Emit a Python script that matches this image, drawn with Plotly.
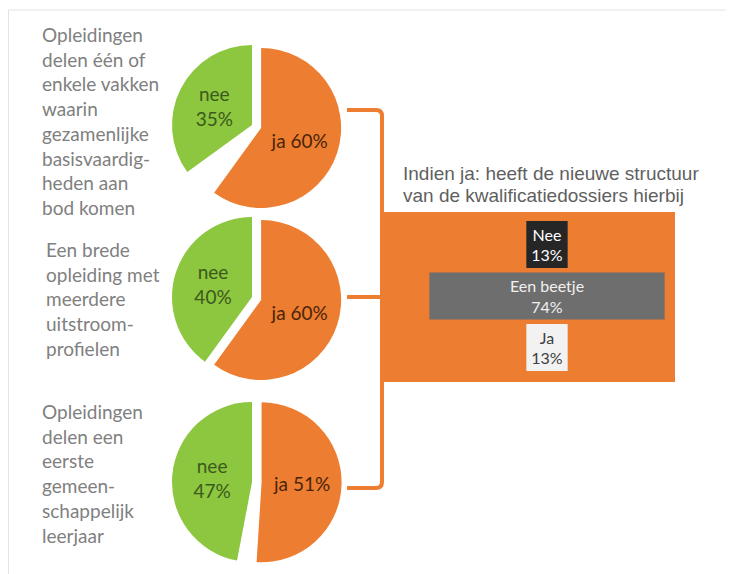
import plotly.graph_objects as go

# The page body has an 8px margin, so the figure is drawn at (8, 8).
OFF = 8
W, H = 734 - OFF, 574 - OFF

# ---------------- data ----------------
pie_labels = [
    ["Opleidingen", "delen één of", "enkele vakken", "waarin", "gezamenlijke",
     "basisvaardig-", "heden aan", "bod komen"],
    ["Een brede", "opleiding met", "meerdere", "uitstroom-", "profielen"],
    ["Opleidingen", "delen een", "eerste", "gemeen-", "schappelijk", "leerjaar"],
]
ja_pct = [60, 60, 51]
nee_pct = [35, 40, 47]

sub_title = ["Indien ja: heeft de nieuwe structuur",
             "van de kwalificatiedossiers hierbij"]
bar_cats = ["Nee", "Een beetje", "Ja"]
bar_pct = [13, 74, 13]

# ---------------- style ----------------
ORANGE = "#ED7D31"
GREEN = "#8DC63F"
GRAY_TXT = "#808080"


def X(px):
    return (px - OFF) / W


def Y(py):
    return 1 - (py - OFF) / H


fig = go.Figure()

pie_centers = [(252, 125), (252, 297), (252, 482)]
R = 80
PULL = 0.12
half = R * (1 + PULL)

for i, (cx, cy) in enumerate(pie_centers):
    rest = 100 - ja_pct[i] - nee_pct[i]
    fig.add_trace(go.Pie(
        values=[ja_pct[i], rest, nee_pct[i]],
        labels=["ja", "", "nee"],
        text=[f"ja {ja_pct[i]}%", "", f"nee<br>{nee_pct[i]}%"],
        textinfo="text",
        textposition="inside",
        insidetextorientation="horizontal",
        insidetextfont=dict(family="Lato", size=19,
                            color=["#4a2508", "rgba(0,0,0,0)", "#3b5a1c"]),
        marker=dict(colors=[ORANGE, "rgba(0,0,0,0)", GREEN],
                    line=dict(width=0)),
        pull=[PULL, 0, 0],
        sort=False,
        direction="clockwise",
        rotation=0,
        showlegend=False,
        hoverinfo="skip",
        domain=dict(x=[max(0, X(cx - half)), min(1, X(cx + half))],
                    y=[max(0, Y(cy + half)), min(1, Y(cy - half))]),
    ))

# centered bars inside the orange box
bx0, bx1, by0, by1 = 383, 675, 212, 382
bar_center_px = 547
px_per_unit = 3.18
slot_px = 51.5
first_center_py = 244.5

fig.add_trace(go.Funnel(
    y=bar_cats,
    x=bar_pct,
    text=[f"{c}<br>{v}%" for c, v in zip(bar_cats, bar_pct)],
    textinfo="text",
    textposition="inside",
    insidetextanchor="middle",
    textangle=0,
    constraintext="none",
    textfont=dict(family="Lato", size=16,
                  color=["#ffffff", "#f0f0f0", "#404040"]),
    marker=dict(color=["#262626", "#6E6E6E", "#F2F2F2"], line=dict(width=0)),
    connector=dict(visible=False),
    width=0.91,
    hoverinfo="skip",
    showlegend=False,
))

x_lo = (bx0 - bar_center_px) / px_per_unit
x_hi = (bx1 - bar_center_px) / px_per_unit
y_top = -(first_center_py - by0) / slot_px
y_bot = 2 + (by1 - (first_center_py + 2 * slot_px)) / slot_px

fig.update_layout(
    width=W, height=H, autosize=False,
    margin=dict(l=0, r=0, t=0, b=0),
    paper_bgcolor="white",
    plot_bgcolor=ORANGE,
    xaxis=dict(domain=[X(bx0), X(bx1)], range=[x_lo, x_hi], visible=False,
               fixedrange=True),
    yaxis=dict(domain=[Y(by1), Y(by0)], range=[y_bot, y_top], visible=False,
               type="category", fixedrange=True),
)

# left-hand descriptive labels
label_tops = [21, 236, 398]
label_x = [40, 44, 40]
for lines, top, lx in zip(pie_labels, label_tops, label_x):
    fig.add_annotation(
        x=X(lx), y=Y(top), xref="paper", yref="paper",
        xanchor="left", yanchor="top", align="left", showarrow=False,
        text="<br>".join(lines),
        font=dict(family="Lato", size=19, color=GRAY_TXT),
    )

# sub-chart title (one annotation per line for tight line spacing)
title_line_centers = [173, 195]
for line, cy in zip(sub_title, title_line_centers):
    fig.add_annotation(
        x=X(401), y=Y(cy), xref="paper", yref="paper",
        xanchor="left", yanchor="middle", align="left", showarrow=False,
        text=line,
        font=dict(family="Liberation Sans", size=19, color="#5f5f5f"),
    )

# bracket connecting the pies to the box
vx = 382
t_y, m_y, b_y = 110, 297, 488
sx = 347
rc = 6
path = (f"M {X(sx)},{Y(t_y)} L {X(vx - rc)},{Y(t_y)} "
        f"Q {X(vx)},{Y(t_y)} {X(vx)},{Y(t_y + rc)} "
        f"L {X(vx)},{Y(b_y - rc)} "
        f"Q {X(vx)},{Y(b_y)} {X(vx - rc)},{Y(b_y)} "
        f"L {X(sx)},{Y(b_y)}")
fig.add_shape(type="path", path=path, xref="paper", yref="paper",
              line=dict(color=ORANGE, width=4))
fig.add_shape(type="line", x0=X(sx), x1=X(vx), y0=Y(m_y), y1=Y(m_y),
              xref="paper", yref="paper", line=dict(color=ORANGE, width=4))

# light frame lines (top and left)
fig.add_shape(type="line", x0=X(8.5), x1=1, y0=Y(10), y1=Y(10),
              xref="paper", yref="paper", line=dict(color="#E3E3E3", width=1))
fig.add_shape(type="line", x0=X(8.5), x1=X(8.5), y0=Y(10), y1=0,
              xref="paper", yref="paper", line=dict(color="#E3E3E3", width=1))

fig.write_html("out.html")
